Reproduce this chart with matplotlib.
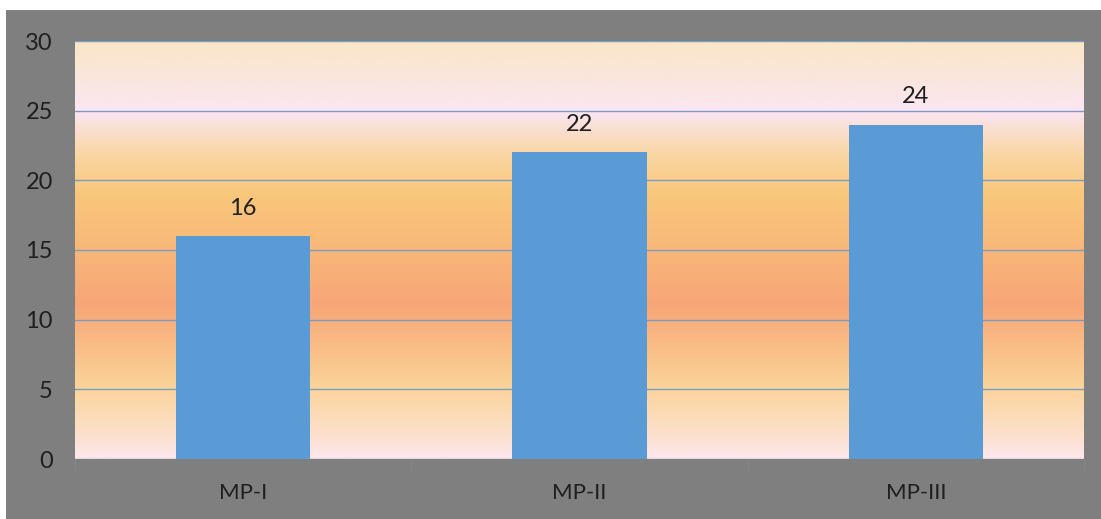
import numpy as np
import matplotlib
matplotlib.use("Agg")
import matplotlib.pyplot as plt
from matplotlib.colors import LinearSegmentedColormap
from matplotlib.patches import Rectangle

categories = ["MP-I", "MP-II", "MP-III"]
values = [16, 22, 24]
yticks = [0, 5, 10, 15, 20, 25, 30]

plt.rcParams['font.family'] = ['Lato', 'DejaVu Sans']

fig = plt.figure(figsize=(11.01, 5.19), dpi=100, facecolor='white')
fig.patches.append(Rectangle((6/1101, 0), 1 - 6/1101, (519-10)/519,
                             transform=fig.transFigure, facecolor='#7f7f7f',
                             edgecolor='none', zorder=-5))
ax = fig.add_axes([75/1101, (519-459)/519, 1009/1101, 418/519])
ax.set_zorder(1)
ax.set_xlim(-0.5, 2.5)
ax.set_ylim(0, 30)

# background gradient
stops = [(0.0, '#fde7ea'), (2/30, '#fcdfc8'), (5/30, '#fbd49c'), (7/30, '#f9c68c'),
         (11/30, '#f7a677'), (15/30, '#f8b779'), (19/30, '#f9c77b'),
         (22/30, '#fad7a6'), (25/30, '#fbe6f3'), (1.0, '#fae6c6')]
cmap = LinearSegmentedColormap.from_list('bg', stops)
grad = np.linspace(0, 1, 512).reshape(-1, 1)
ax.imshow(grad, cmap=cmap, aspect='auto', origin='lower',
          extent=(-0.5, 2.5, 0, 30), zorder=0)

x = np.arange(len(categories))
ax.bar(x, values, width=0.4, color='#5b9bd5', zorder=3)
for xi, v in zip(x, values):
    ax.text(xi, v + 2.0, str(v), ha='center', va='center', fontsize=17, color='#1f1f1f', zorder=4)

ax.set_yticks(yticks)
ax.set_yticklabels([str(t) for t in yticks])
ax.yaxis.grid(True, color='#7b9cc6', linewidth=1.0, zorder=1)
ax.set_axisbelow(True)
ax.tick_params(axis='y', length=0, pad=16, labelsize=17, labelcolor='#1f1f1f')
ax.set_xticks(x)
ax.set_xticklabels(categories)
ax.tick_params(axis='x', length=0, pad=17, labelsize=16, labelcolor='#1f1f1f')
ax.set_xticks([-0.5, 0.5, 1.5, 2.5], minor=True)
ax.tick_params(axis='x', which='minor', length=8, color='#878787', width=1)
for s in ax.spines.values():
    s.set_visible(False)

fig.savefig('out.png', dpi=100, facecolor='white')
